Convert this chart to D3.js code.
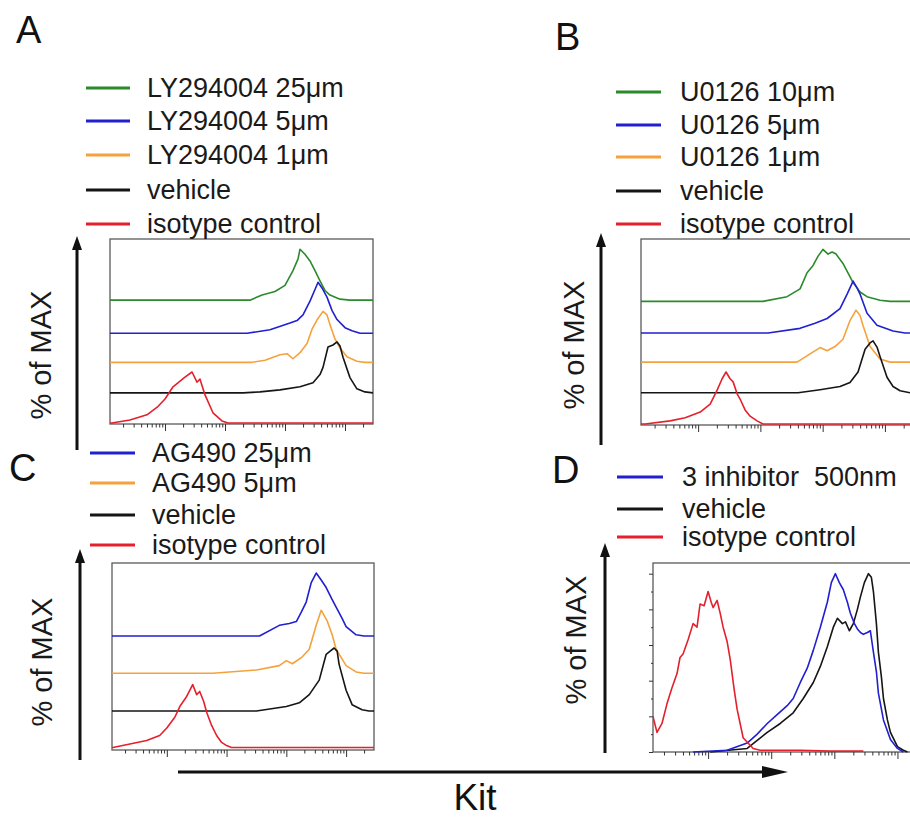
<!DOCTYPE html>
<html>
<head>
<meta charset="utf-8">
<script src="https://cdn.jsdelivr.net/npm/d3@7"></script>
<style>
  body { margin: 0; background: #fff; }
  svg { display: block; font-family: "Liberation Sans", Arial, sans-serif; }
</style>
</head>
<body>
<div id="chart"></div>
<script>
// Kit histograms: [fluorescence intensity, % of MAX]

// Panel A - LY294004
const aLabels = ["LY294004 25μm", "LY294004 5μm", "LY294004 1μm", "vehicle", "isotype control"];
const aLy25 = [[261,0],[414,10],[681,17],[1000,29],[1358,58],[1650,81],[1778,100],[2150,90],[2610,77],[3160,58],[3830,38],[4640,19],[5620,10],[8260,2],[12100,0]];
const aLy5 = [[233,0],[562,7],[1210,20],[1585,25],[1995,36],[2610,63],[3160,86],[3550,100],[4140,89],[5010,71],[6070,45],[7360,27],[10000,11],[13100,5],[17800,0]];
const aLy1 = [[282,0],[464,4],[826,15],[1080,17],[1358,7],[1778,19],[2330,37],[2820,65],[3410,83],[4300,100],[5010,93],[5620,74],[6810,46],[8260,28],[10800,11],[15800,2],[21500,0]];
const aVehicle = [[200,0],[383,2],[826,6],[1778,12],[2930,20],[3830,36],[4300,50],[5210,90],[6310,94],[7360,100],[8260,92],[9270,70],[12100,30],[15800,8],[21500,2],[29300,0]];
const aIsotype = [[1.3,0],[2.6,6],[5.0,16],[7.4,31],[10,47],[13.6,71],[21.5,90],[28.2,100],[34.1,80],[38.3,86],[46.4,55],[63,20],[89,4],[112,0]];

// Panel B - U0126
const bLabels = ["U0126 10μm", "U0126 5μm", "U0126 1μm", "vehicle", "isotype control"];
const bU10 = [[110,0],[268,9],[434,24],[562,55],[702,69],[844,87],[1010,100],[1220,91],[1420,95],[1640,91],[2120,73],[3080,36],[3980,18],[5160,9],[8340,2],[12100,0]];
const bU5 = [[133,0],[434,9],[755,19],[1180,28],[1900,47],[2470,75],[3080,100],[3570,87],[3980,75],[5160,38],[7460,15],[13500,4],[21000,0]];
const bU1 = [[388,0],[628,16],[908,28],[1180,22],[1580,30],[2120,44],[2750,80],[3430,100],[3980,90],[4460,70],[5770,30],[8340,6],[12100,0]];
const bVehicle = [[403,0],[908,6],[1900,12],[2750,20],[3700,40],[4800,84],[5770,96],[6440,100],[7460,88],[8340,70],[10800,30],[13500,12],[17500,4],[25300,0]];
const bIsotype = [[1.41,0],[3.56,6],[6.2,12],[10.8,23],[15.6,38],[20.2,65],[24.3,87],[28.1,100],[32.6,87],[36.5,81],[42.3,58],[47.2,48],[56.8,27],[68.4,15],[88.5,6],[110,0]];

// Panel C - AG490
const cLabels = ["AG490 25μm", "AG490 5μm", "vehicle", "isotype control"];
const cAg25 = [[355,0],[764,17],[1120,20],[1470,23],[1780,38],[2150,54],[2610,85],[3160,100],[3830,89],[4640,77],[5850,58],[6810,46],[8570,28],[10000,15],[14700,2],[20000,0]];
const cAg5 = [[58.5,0],[316,5],[764,12],[1000,20],[1260,15],[1850,26],[2420,38],[3160,76],[3830,100],[4820,83],[5850,61],[6810,38],[10000,12],[14700,2],[20000,0]];
const cVehicle = [[316,0],[1000,7],[1650,13],[2420,26],[3550,49],[4640,90],[5410,95],[6310,100],[7080,95],[7640,74],[10000,33],[12600,10],[18500,2],[24200,0]];
const cIsotype = [[1.26,0],[4.6,11],[7.6,19],[10,31],[13.6,48],[16.5,65],[21.5,81],[27.1,100],[31.6,84],[35.5,89],[41.4,73],[46.4,56],[56.2,35],[68.1,19],[82.6,8],[100,3],[121,0]];

// Panel D - 3 inhibitor
const dLabels = ["3 inhibitor  500nm", "vehicle", "isotype control"];
const dInhibitor = [[5.78,0],[20,1],[41.6,5],[60,10],[86.5,16],[124,21],[179,26],[223,30],[289,39],[372,47],[464,57],[600,70],[774,84],[896,95],[1040,100],[1200,95],[1390,91],[1610,84],[1790,78],[2080,72],[2320,69],[2590,67],[2880,66],[3340,67],[3720,68],[4160,56],[4640,45],[4990,33],[6000,18],[7740,7],[10000,2],[12400,0]];
const dVehicle = [[10.8,0],[41.6,2],[86.5,11],[139,16],[223,22],[322,30],[464,39],[600,48],[774,59],[964,70],[1120,75],[1340,72],[1500,73],[1730,68],[2000,72],[2320,80],[2590,87],[2990,95],[3470,100],[3860,98],[4160,90],[4640,72],[4990,56],[5570,42],[6000,30],[6930,18],[7740,11],[10000,3],[12400,1],[14400,0]];
const dIsotype = [[1.34,20],[1.55,11],[1.86,16],[2.23,27],[2.68,36],[3.22,44],[3.59,53],[4.01,55],[4.82,63],[5.78,72],[6.68,70],[7.46,83],[8.65,82],[10,90],[11.2,84],[12.0,81],[13.9,85],[15.5,78],[17.3,70],[20.0,62],[22.4,52],[25.9,35],[28.8,24],[35.9,8],[51.8,2],[66.8,1],[289,1],[865,0.5],[2880,0.5]];

const colors = { green: "#2b8a2b", blue: "#2020d0", orange: "#f5a23c", black: "#151515", red: "#e4202c" };

const panels = [
    {
        letter: "A", letterPos: [16, 43],
        box: { left: 110, top: 239, width: 263, height: 185 }, xDomain: [1.21, 29300], yMax: 363, extend: true,
        series: [
            { data: aLy25, color: colors.green, offset: 243 },
            { data: aLy5, color: colors.blue, offset: 178 },
            { data: aLy1, color: colors.orange, offset: 121 },
            { data: aVehicle, color: colors.black, offset: 61 },
            { data: aIsotype, color: colors.red, offset: 2 }
        ],
        labels: aLabels, legend: { x1: 86, x2: 130, tx: 147, ys: [88, 121, 155, 190, 224] },
        arrow: { x: 77, y1: 450, tip: 236 }, yLabel: [41, 355]
    },
    {
        letter: "B", letterPos: [555, 50],
        box: { left: 641, top: 239, width: 273, height: 186 }, xDomain: [1.21, 29300], yMax: 358, extend: true,
        series: [
            { data: bU10, color: colors.green, offset: 238 },
            { data: bU5, color: colors.blue, offset: 177 },
            { data: bU1, color: colors.orange, offset: 121 },
            { data: bVehicle, color: colors.black, offset: 62 },
            { data: bIsotype, color: colors.red, offset: 2 }
        ],
        labels: bLabels, legend: { x1: 616, x2: 661, tx: 680, ys: [92, 125, 157, 191, 224] },
        arrow: { x: 601, y1: 445, tip: 233 }, yLabel: [574, 345]
    },
    {
        letter: "C", letterPos: [9, 481],
        box: { left: 112, top: 563, width: 262, height: 187 }, xDomain: [1.21, 29300], yMax: 297, extend: true,
        series: [
            { data: cAg25, color: colors.blue, offset: 181 },
            { data: cAg5, color: colors.orange, offset: 122 },
            { data: cVehicle, color: colors.black, offset: 62 },
            { data: cIsotype, color: colors.red, offset: 4 }
        ],
        labels: cLabels, legend: { x1: 90, x2: 135, tx: 152, ys: [453, 483, 515, 545] },
        arrow: { x: 80, y1: 760, tip: 549 }, yLabel: [42, 662]
    },
    {
        letter: "D", letterPos: [552, 483],
        box: { left: 653, top: 563, width: 276, height: 189 }, xDomain: [1.34, 31600], yMax: 106, extend: false, yTicks: true,
        series: [
            { data: dVehicle, color: colors.black, offset: 0 },
            { data: dInhibitor, color: colors.blue, offset: 0 },
            { data: dIsotype, color: colors.red, offset: 0 }
        ],
        labels: dLabels, legendColors: [colors.blue, colors.black, colors.red],
        legend: { x1: 617, x2: 663, tx: 682, ys: [477, 509, 537] },
        arrow: { x: 605, y1: 753, tip: 543 }, yLabel: [576, 640]
    }
];

const svg = d3.select("#chart").append("svg")
    .attr("width", 910)
    .attr("height", 819);

function upArrow(x, y1, tip) {
    svg.append("line")
        .attr("x1", x).attr("x2", x)
        .attr("y1", y1).attr("y2", tip + 10)
        .attr("stroke", "#111").attr("stroke-width", 3);
    svg.append("path")
        .attr("d", `M${x - 5},${tip + 14}L${x},${tip}L${x + 5},${tip + 14}Z`)
        .attr("fill", "#111");
}

function drawPanel(p) {
    const b = p.box;
    const x = d3.scaleLog().domain(p.xDomain).range([b.left, b.left + b.width]);
    const y = d3.scaleLinear().domain([0, p.yMax]).range([b.top + b.height, b.top]);

    // Frame
    svg.append("rect")
        .attr("x", b.left).attr("y", b.top)
        .attr("width", b.width).attr("height", b.height)
        .attr("fill", "none")
        .attr("stroke", "#5a5a5a")
        .attr("stroke-width", 1.3);

    // Bottom log ticks (no labels)
    const xAxis = svg.append("g")
        .attr("transform", `translate(0,${b.top + b.height})`)
        .call(d3.axisBottom(x).ticks(5).tickFormat("").tickSizeOuter(0));
    xAxis.select(".domain").remove();
    xAxis.selectAll(".tick line")
        .attr("y2", d => Number.isInteger(Math.round(Math.log10(d) * 1000) / 1000) ? 7 : 3.5)
        .attr("stroke", "#333");

    // Left percentage ticks for panel D
    if (p.yTicks) {
        const yAxis = svg.append("g")
            .attr("transform", `translate(${b.left},0)`)
            .call(d3.axisLeft(y).tickValues(d3.range(0, 101, 10)).tickFormat("").tickSizeOuter(0));
        yAxis.select(".domain").remove();
        yAxis.selectAll(".tick line")
            .attr("x2", d => d % 20 === 0 ? -4 : -2)
            .attr("stroke", "#333");
    }

    // Histogram curves
    const line = d3.line()
        .x(d => x(d[0]))
        .y(d => y(d[1]));
    const clipId = "clip" + p.letter;
    svg.append("clipPath").attr("id", clipId)
        .append("rect")
        .attr("x", b.left).attr("y", b.top - 2)
        .attr("width", b.width).attr("height", b.height + 3);
    const g = svg.append("g").attr("clip-path", `url(#${clipId})`);
    p.series.forEach(s => {
        let pts = s.data.map(d => [d[0], d[1] + s.offset]);
        if (p.extend) {
            pts = [[p.xDomain[0], pts[0][1]], ...pts, [p.xDomain[1], pts[pts.length - 1][1]]];
        }
        g.append("path")
            .datum(pts)
            .attr("d", line)
            .attr("fill", "none")
            .attr("stroke", s.color)
            .attr("stroke-width", 1.6)
            .attr("stroke-linejoin", "round");
    });

    // Legend
    const legendColors = p.legendColors || p.series.map(s => s.color);
    p.labels.forEach((label, i) => {
        const ly = p.legend.ys[i];
        svg.append("line")
            .attr("x1", p.legend.x1).attr("x2", p.legend.x2)
            .attr("y1", ly).attr("y2", ly)
            .attr("stroke", legendColors[i])
            .attr("stroke-width", 3);
        svg.append("text")
            .attr("x", p.legend.tx)
            .attr("y", ly + 9)
            .attr("font-size", 27)
            .attr("fill", "#1a1a1a")
            .style("white-space", "pre")
            .text(label);
    });

    // Y arrow and label
    upArrow(p.arrow.x, p.arrow.y1, p.arrow.tip);
    svg.append("text")
        .attr("transform", `translate(${p.yLabel[0]},${p.yLabel[1]}) rotate(-90)`)
        .attr("text-anchor", "middle")
        .attr("dominant-baseline", "central")
        .attr("font-size", 29)
        .attr("fill", "#1a1a1a")
        .text("% of MAX");

    // Panel letter
    svg.append("text")
        .attr("x", p.letterPos[0])
        .attr("y", p.letterPos[1])
        .attr("font-size", 38)
        .attr("fill", "#111")
        .text(p.letter);
}

panels.forEach(drawPanel);

// Shared Kit arrow
svg.append("line")
    .attr("x1", 178).attr("x2", 770)
    .attr("y1", 772).attr("y2", 772)
    .attr("stroke", "#111").attr("stroke-width", 3);
svg.append("path")
    .attr("d", "M762,766L788,772L762,778Z")
    .attr("fill", "#111");
svg.append("text")
    .attr("x", 475)
    .attr("y", 810)
    .attr("text-anchor", "middle")
    .attr("font-size", 37)
    .attr("fill", "#111")
    .text("Kit");
</script>
</body>
</html>
